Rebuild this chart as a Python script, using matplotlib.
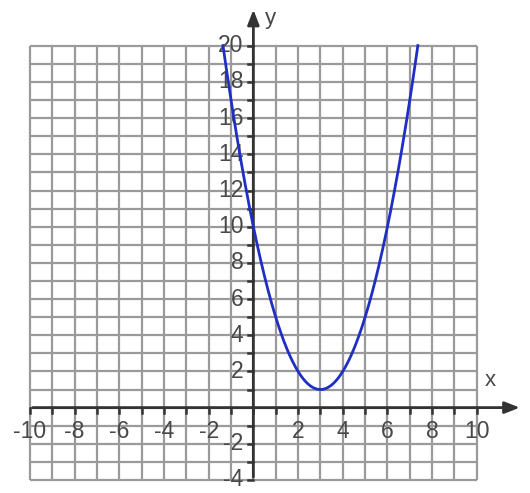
import numpy as np
import matplotlib.pyplot as plt

# parabola y = x^2 - 6x + 10  (vertex at (3, 1))
coef = [1, -6, 10]
x_range = [-1.36, 7.36]

x_ticklabels = [-10, -8, -6, -4, -2, 2, 4, 6, 8, 10]
y_ticklabels = [-4, -2, 2, 4, 6, 8, 10, 12, 14, 16, 18, 20]
xmin, xmax = -10, 10
ymin, ymax = -4, 20

fig = plt.figure(figsize=(5.30, 4.93), dpi=100)
ax = fig.add_axes([0, 0, 1, 1])
ax.set_xlim(-11.34, 12.38)
ax.set_ylim(-4.72, 22.53)
ax.axis('off')

grid_c = '#9a9a9a'
axis_c = '#333333'
txt_c = '#484848'

# grid
ax.vlines(np.arange(xmin, xmax + 1), ymin, ymax, color=grid_c, lw=1.6, zorder=1)
ax.hlines(np.arange(ymin, ymax + 1), xmin, xmax, color=grid_c, lw=1.6, zorder=1)

# axes with arrows
ax.annotate('', xy=(12.05, 0), xytext=(xmin, 0),
            arrowprops=dict(arrowstyle='-|>,head_length=0.9,head_width=0.35',
                            color=axis_c, lw=2), zorder=3)
ax.annotate('', xy=(0, 22.15), xytext=(0, ymin),
            arrowprops=dict(arrowstyle='-|>,head_length=0.9,head_width=0.35',
                            color=axis_c, lw=2), zorder=3)

# small ticks
for t in range(xmin, xmax + 1):
    ax.plot([t, t], [0, -0.3], color=axis_c, lw=1.8, zorder=3)
for t in range(ymin, ymax + 1):
    if t != 0:
        ax.plot([-0.25, 0], [t, t], color=axis_c, lw=1.8, zorder=3)

# tick labels
for t in x_ticklabels:
    ax.text(t, -1.3, str(t), ha='center', va='center',
            fontsize=16.5, color=txt_c, family='Liberation Sans', zorder=4)
for t in y_ticklabels:
    ax.text(-0.45, t, str(t), ha='right', va='center',
            fontsize=16.5, color=txt_c, family='Liberation Sans', zorder=4)

ax.text(0.75, 21.5, 'y', ha='center', va='center', fontsize=16, color=txt_c,
        family='Liberation Sans')
ax.text(10.6, 1.5, 'x', ha='center', va='center', fontsize=16, color=txt_c,
        family='Liberation Sans')

# curve
xs = np.linspace(x_range[0], x_range[1], 300)
ax.plot(xs, np.polyval(coef, xs), color='#1f2fc4', lw=2, zorder=5)

fig.savefig('out.png', dpi=100)
